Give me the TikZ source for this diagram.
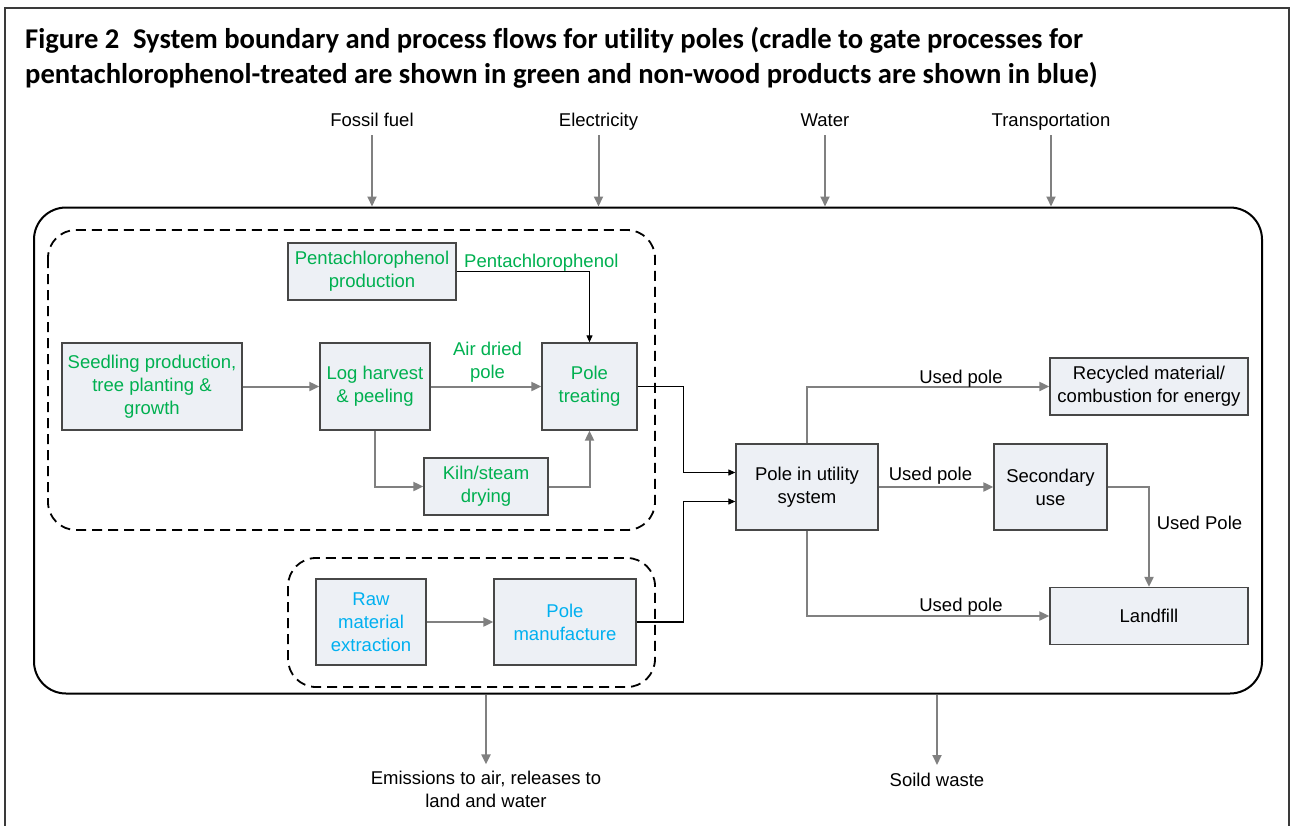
\documentclass[tikz,border=0pt]{standalone}
\usepackage{fontspec}
\setmainfont{Liberation Sans}
\newfontfamily\titlefont[Ligatures=NoCommon]{Carlito}
\usetikzlibrary{arrows.meta}
\definecolor{pgreen}{HTML}{00B050}
\definecolor{pblue}{HTML}{00B0F0}
\definecolor{boxfill}{HTML}{EDF0F5}
\definecolor{boxline}{HTML}{474747}
\definecolor{arrgray}{HTML}{808080}
\definecolor{framegray}{HTML}{3A3A3A}
\begin{document}
\begin{tikzpicture}[x=1pt,y=-1pt,
  every node/.style={inner sep=0pt, font=\fontsize{18.5}{23}\selectfont},
  box/.style={draw=boxline, fill=boxfill, line width=1.3pt, align=center},
  garrow/.style={draw=arrgray, line width=2pt, -{Triangle[length=10pt,width=9pt]}},
  barrow/.style={draw=black, line width=1.1pt, -{Triangle[length=7pt,width=6pt]}},
  dbox/.style={draw=black, line width=1.8pt, dash pattern=on 10pt off 6pt, rounded corners=28pt},
  lbl/.style={align=center},
  titletext/.style={anchor=base west, font=\titlefont\bfseries\fontsize{28.6}{35}\selectfont},
]
\useasboundingbox (0,0) rectangle (1291,825);
% outer frame
\draw[framegray, line width=2pt] (5,830) -- (5,8) -- (1289,8) -- (1289,830);

% title
\node[titletext] (t1) at (25,48) {Figure 2\hspace{0.25em} System boundary and process flows for utility poles (cradle to gate processes for};
\node[titletext] (t2) at (25,83) {pentachlorophenol-treated are shown in green and non-wood products are shown in blue)};

% system boundary
\node[draw=black, line width=2pt, rounded corners=32pt, minimum width=1228pt, minimum height=486pt] (bound) at (648,450.5) {};

% dashed groups
\draw[dbox] (48,230) rectangle (655,530);
\draw[dbox] (288,558) rectangle (655,687);

% top inputs
\node[anchor=base] (ff) at (372,126) {Fossil fuel};
\node[anchor=base] (el) at (598.5,126) {Electricity};
\node[anchor=base] (wa) at (825,126) {Water};
\node[anchor=base] (tr) at (1051,126) {Transportation};
\foreach \n in {ff,el,wa,tr}
  \draw[garrow] ([yshift=-9pt]\n.base) -- (\n.base |- bound.north);

% bottom outputs
\node[lbl, anchor=base] (em) at (486,807) {Emissions to air, releases to\\land and water};
\node[anchor=base] (sw) at (937,786) {Soild waste};
\draw[garrow] (em.north |- bound.south) -- ([yshift=6pt]em.north);
\draw[garrow] (sw.base |- bound.south) -- ([yshift=21pt]sw.base);

% green process boxes
\node[box, text=pgreen, minimum width=168pt, minimum height=57pt] (pcp) at (372,271.5) {Pentachlorophenol\\production};
\node[box, text=pgreen, minimum width=180pt, minimum height=87pt] (seed) at (152,386.5) {Seedling production,\\tree planting \&\\growth};
\node[box, text=pgreen, minimum width=110pt, minimum height=87pt] (log) at (375,386.5) {Log harvest\\\& peeling};
\node[box, text=pgreen, minimum width=95pt, minimum height=87pt] (treat) at (589.5,386.5) {Pole\\treating};
\node[box, text=pgreen, minimum width=124pt, minimum height=57pt] (kiln) at (486,486.5) {Kiln/steam\\drying};

% blue process boxes
\node[box, text=pblue, minimum width=110pt, minimum height=86pt] (raw) at (371,622) {Raw\\material\\extraction};
\node[box, text=pblue, minimum width=142pt, minimum height=86pt] (manu) at (565,622) {Pole\\manufacture};

% black process boxes
\node[box, minimum width=142pt, minimum height=86pt] (util) at (807,487) {Pole in utility\\system};
\node[box, minimum width=198pt, minimum height=57pt] (recyc) at (1149,386.5) {Recycled material/\\combustion for energy};
\node[box, minimum width=113pt, minimum height=86pt] (sec) at (1050.5,487) {Secondary\\use};
\node[box, minimum width=198pt, minimum height=57pt] (land) at (1149,616) {Landfill};

% green labels
\node[anchor=base west, text=pgreen] (lpcp) at (464,267) {Pentachlorophenol};
\node[lbl, anchor=south, text=pgreen] (lair) at (487.5,383) {Air dried\\pole};

% connectors inside green group
\draw[barrow] (pcp.east) -| (treat.north);
\draw[garrow] (seed.east) -- (log.west);
\draw[garrow] (log.east) -- (treat.west);
\draw[garrow] (log.south) |- (kiln.west);
\draw[garrow] (kiln.east) -| (treat.south);
\draw[garrow] (raw.east) -- (manu.west);

% into utility
\draw[barrow] (treat.east) -- ++(46,0) |- ([yshift=14.5pt]util.west);
\draw[barrow] (manu.east) -- ++(47,0) |- ([yshift=-14.5pt]util.west);

% out of utility
\draw[garrow] (util.north) |- (recyc.west);
\draw[garrow] (util.east) -- (sec.west);
\draw[garrow] (util.south) |- (land.west);
\draw[garrow] (sec.east) -| (land.north);

% connector labels
\node[anchor=base] (u1) at (961,383) {Used pole};
\node[anchor=base] (u2) at (930.5,480.5) {Used pole};
\node[anchor=base] (u3) at (961,611) {Used pole};
\node[anchor=base] (u4) at (1199.5,529) {Used Pole};
\end{tikzpicture}
\end{document}
